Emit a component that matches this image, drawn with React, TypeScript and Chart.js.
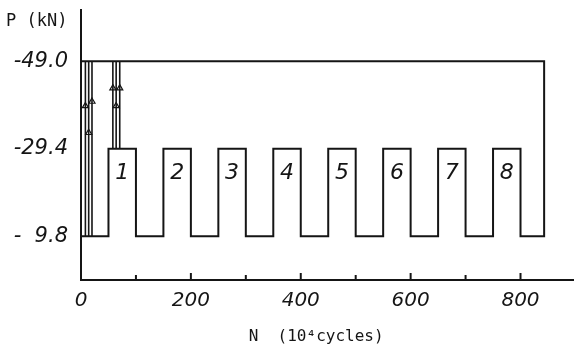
import React, { useEffect, useRef } from 'react';
import { Chart, registerables } from 'chart.js';

Chart.register(...registerables);

// Load levels (kN, plotted as magnitudes)
const LOW = 9.8;
const MID = 29.4;
const HIGH = 49.0;

// Block loading: blocks 1..8 (N in 10^4 cycles)
const blockStarts = [50, 150, 250, 350, 450, 550, 650, 750];
const blockEnds = [100, 200, 300, 400, 500, 600, 700, 800];
const blockLabels = ['1', '2', '3', '4', '5', '6', '7', '8'];
const blockLabelLoad = 24;
const finalN = 843;

// Initial overload spikes
const spikesToLow = [8, 14, 20];
const spikesToMid = [58, 64, 70.5];
const arrowN = [8, 20, 14, 58, 70.5, 64];
const arrowLoad = [39, 40, 33, 43, 43, 39];

// Axes
const xTickValues = [0, 100, 200, 300, 400, 500, 600, 700, 800];
const xLabeledTicks = [0, 200, 400, 600, 800];
const yTickValues = [9.8, 29.4, 49.0];
const yTickLabels = ['-  9.8', '-29.4', '-49.0'];
const X_MAX = 897;
const Y_MAX = 60.5;

const INK = '#151515';

export default function App() {
  const ref = useRef<HTMLCanvasElement | null>(null);

  useEffect(() => {
    if (!ref.current) return;

    const mainPath: { x: number; y: number }[] = [{ x: 0, y: LOW }];
    blockStarts.forEach((s, i) => {
      mainPath.push({ x: s, y: LOW }, { x: s, y: MID }, { x: blockEnds[i], y: MID }, { x: blockEnds[i], y: LOW });
    });
    mainPath.push({ x: finalN, y: LOW }, { x: finalN, y: HIGH }, { x: 0, y: HIGH });

    const spikes: { x: number; y: number | null }[] = [];
    spikesToLow.forEach((x) => spikes.push({ x, y: HIGH }, { x, y: LOW }, { x, y: null }));
    spikesToMid.forEach((x) => spikes.push({ x, y: HIGH }, { x, y: MID }, { x, y: null }));

    const arrows = arrowN.map((x, i) => ({ x, y: arrowLoad[i] }));

    const decor = {
      id: 'decor',
      afterDraw(chart: any) {
        const ctx = chart.ctx;
        const xs = chart.scales.x;
        const ys = chart.scales.y;
        const area = chart.chartArea;
        ctx.save();
        // x tick marks (pointing up into the plot)
        ctx.strokeStyle = INK;
        ctx.lineWidth = 2;
        xTickValues.forEach((v) => {
          if (v === 0) return;
          const px = xs.getPixelForValue(v);
          const len = xLabeledTicks.includes(v) ? 7 : 5;
          ctx.beginPath();
          ctx.moveTo(px, area.bottom);
          ctx.lineTo(px, area.bottom - len);
          ctx.stroke();
        });
        // block numbers
        ctx.fillStyle = INK;
        ctx.font = 'italic 22px "DejaVu Sans"';
        ctx.textAlign = 'center';
        ctx.textBaseline = 'middle';
        blockLabels.forEach((lab, i) => {
          const cx = xs.getPixelForValue((blockStarts[i] + blockEnds[i]) / 2);
          ctx.fillText(lab, cx, ys.getPixelForValue(blockLabelLoad));
        });
        // axis titles
        ctx.font = '17px "DejaVu Sans Mono"';
        ctx.textAlign = 'left';
        ctx.textBaseline = 'alphabetic';
        ctx.fillText('P (kN)', 6, 26);
        ctx.font = '16px "DejaVu Sans Mono"';
        ctx.textAlign = 'center';
        ctx.fillText('N  (10\u2074cycles)', xs.getPixelForValue(428), 341);
        ctx.restore();
      },
    };

    const chart = new Chart(ref.current, {
      type: 'line',
      data: {
        datasets: [
          {
            data: mainPath as any,
            borderColor: INK,
            borderWidth: 2,
            pointRadius: 0,
            fill: false,
            tension: 0,
            clip: false as any,
          },
          {
            data: spikes as any,
            borderColor: INK,
            borderWidth: 1.6,
            pointRadius: 0,
            spanGaps: false,
            fill: false,
            clip: false as any,
          },
          {
            type: 'scatter' as any,
            data: arrows as any,
            showLine: false,
            pointStyle: 'triangle',
            pointRadius: 3.5,
            borderWidth: 1.2,
            borderColor: INK,
            backgroundColor: '#ffffff',
          } as any,
        ],
      },
      options: {
        responsive: false,
        animation: false,
        devicePixelRatio: 1,
        layout: { padding: { top: 10, right: 0, left: 0, bottom: 0 } },
        plugins: { legend: { display: false }, tooltip: { enabled: false } },
        scales: {
          x: {
            type: 'linear',
            min: 0,
            max: X_MAX,
            afterBuildTicks: (s: any) => {
              s.ticks = xTickValues.map((v) => ({ value: v }));
            },
            afterFit: (s: any) => {
              s.height = 68;
              s.paddingLeft = 0;
              s.paddingRight = 0;
            },
            grid: { drawOnChartArea: false, drawTicks: false },
            border: { display: true, color: INK, width: 2 },
            ticks: {
              padding: 9,
              autoSkip: false,
              maxRotation: 0,
              color: INK,
              font: { family: 'DejaVu Sans', style: 'italic', size: 20 },
              callback: (v: any) => (xLabeledTicks.includes(Number(v)) ? String(v) : ''),
            },
          },
          y: {
            type: 'linear',
            min: 0,
            max: Y_MAX,
            afterBuildTicks: (s: any) => {
              s.ticks = yTickValues.map((v) => ({ value: v }));
            },
            afterFit: (s: any) => {
              s.width = 81;
              s.paddingTop = 0;
              s.paddingBottom = 0;
            },
            grid: { drawOnChartArea: false, drawTicks: false },
            border: { display: true, color: INK, width: 2 },
            ticks: {
              padding: 13,
              color: INK,
              font: { family: 'DejaVu Sans', style: 'italic', size: 21 },
              callback: (v: any) => {
                const i = yTickValues.indexOf(Number(v));
                return i >= 0 ? yTickLabels[i] : '';
              },
            },
          },
        },
      },
      plugins: [decor],
    });

    return () => chart.destroy();
  }, []);

  return (
    <div style={{ position: 'absolute', left: 0, top: 0, width: 579, height: 348, background: '#fff' }}>
      <canvas ref={ref} width={579} height={348} style={{ display: 'block' }} />
    </div>
  );
}
